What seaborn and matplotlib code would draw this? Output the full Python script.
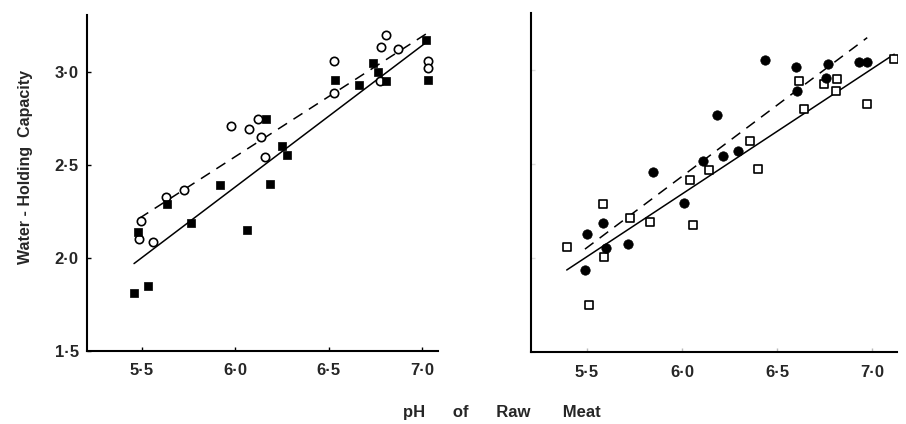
import matplotlib
matplotlib.use("Agg")
import matplotlib.pyplot as plt
import seaborn as sns
import pandas as pd

# ---------------- data ----------------
# Left panel: open circles (dashed fit) and closed squares (solid fit)
left_open_x = [5.485, 5.495, 5.558, 5.629, 5.725, 5.975, 6.074, 6.123, 6.136,
               6.159, 6.527, 6.530, 6.772, 6.779, 6.808, 6.870, 7.030, 7.034]
left_open_y = [2.10, 2.20, 2.085, 2.325, 2.365, 2.71, 2.695, 2.745, 2.65,
               2.54, 3.06, 2.885, 2.95, 3.135, 3.20, 3.125, 3.06, 3.02]
left_closed_x = [5.457, 5.533, 5.480, 5.634, 5.761, 5.918, 6.060, 6.183, 6.165,
                 6.250, 6.279, 6.536, 6.661, 6.735, 6.766, 6.808, 7.020, 7.033]
left_closed_y = [1.81, 1.85, 2.14, 2.29, 2.19, 2.39, 2.15, 2.40, 2.745,
                 2.60, 2.555, 2.955, 2.93, 3.05, 3.00, 2.95, 3.17, 2.955]

# Right panel: closed circles (dashed fit) and open squares (solid fit)
right_closed_x = [6.437, 6.598, 6.768, 6.756, 6.607, 6.933, 6.975, 6.183, 6.296,
                  6.216, 6.109, 5.849, 6.012, 5.584, 5.498, 5.600, 5.716, 5.489]
right_closed_y = [3.053, 3.018, 3.032, 2.956, 2.89, 3.044, 3.044, 2.762, 2.571,
                  2.541, 2.516, 2.459, 2.291, 2.185, 2.126, 2.055, 2.076, 1.938]
right_open_x = [7.117, 6.617, 6.817, 6.749, 6.811, 6.975, 6.644, 6.358, 6.142,
                6.402, 6.042, 5.584, 5.728, 5.832, 6.056, 5.393, 5.591, 5.512]
right_open_y = [3.057, 2.941, 2.952, 2.924, 2.89, 2.818, 2.793, 2.624, 2.468,
                2.473, 2.415, 2.286, 2.211, 2.19, 2.176, 2.057, 2.007, 1.752]

x_ticks = [5.5, 6.0, 6.5, 7.0]
x_tick_labels = ["5·5", "6·0", "6·5", "7·0"]
y_ticks = [1.5, 2.0, 2.5, 3.0]
y_tick_labels = ["1·5", "2·0", "2·5", "3·0"]
y_label = "Water - Holding  Capacity"
x_label = "pH      of      Raw       Meat"

# ---------------- style ----------------
sns.set_theme(style="ticks")
plt.rcParams['font.family'] = ['Liberation Sans', 'DejaVu Sans']

fig = plt.figure(figsize=(9.06, 4.24), dpi=100)
axL = fig.add_axes([0.096, 0.1722, 0.3874, 0.7925])
axR = fig.add_axes([0.5861, 0.1698, 0.404, 0.7995])

dashed = (0, (7, 5))
line_solid = dict(color="black", lw=1.1, ls="-", zorder=2)
line_dash = dict(color="black", lw=1.1, ls=dashed, zorder=2)

def panel(ax, ox, oy, omark, cx, cy, cmark, open_dashed, xlim, ylim):
    # regression lines
    sns.regplot(x=ox, y=oy, ax=ax, scatter=False, ci=None, truncate=True,
                line_kws=line_dash if open_dashed else line_solid)
    sns.regplot(x=cx, y=cy, ax=ax, scatter=False, ci=None, truncate=True,
                line_kws=line_solid if open_dashed else line_dash)
    # points
    osize = 36 if omark == "o" else 28
    csize = 32 if cmark == "s" else 46
    sns.scatterplot(x=ox, y=oy, ax=ax, marker=omark, s=osize,
                    facecolor="white", edgecolor="black", linewidth=1.2, zorder=3)
    sns.scatterplot(x=cx, y=cy, ax=ax, marker=cmark, s=csize,
                    color="black", edgecolor="black", linewidth=0.5, zorder=3)
    ax.set_xlim(*xlim)
    ax.set_ylim(*ylim)
    ax.set_xticks(x_ticks)
    ax.set_xticklabels(x_tick_labels)
    ax.set_yticks(y_ticks)
    ax.set_xlabel("")
    ax.set_ylabel("")
    for side in ("top", "right"):
        ax.spines[side].set_visible(False)
    for side in ("left", "bottom"):
        ax.spines[side].set_color("black")
        ax.spines[side].set_linewidth(1.5)
    ax.tick_params(axis="both", direction="in", length=3, width=1,
                   color="black", labelsize=12, pad=9)
    for lab in ax.get_xticklabels() + ax.get_yticklabels():
        lab.set_fontweight("bold")
    ax.set_facecolor("white")

panel(axL, left_open_x, left_open_y, "o", left_closed_x, left_closed_y, "s",
      True, (5.205, 7.085), (1.5, 3.306))
axL.set_yticklabels(y_tick_labels)
for lab in axL.get_yticklabels():
    lab.set_fontweight("bold")
axL.tick_params(axis="y", pad=6)

panel(axR, right_open_x, right_open_y, "s", right_closed_x, right_closed_y, "o",
      False, (5.205, 7.132), (1.5, 3.303))
axR.set_yticklabels([])
axR.tick_params(axis="y", color="#dddddd")
axR.tick_params(axis="x", color="#bbbbbb")

fig.text(0.028, 0.606, y_label, rotation=90, ha="center", va="center",
         fontsize=11.5, fontweight="bold")
fig.text(0.554, 0.026, x_label, ha="center", va="center",
         fontsize=12, fontweight="bold")

fig.savefig("out.png", dpi=100, facecolor="white")
